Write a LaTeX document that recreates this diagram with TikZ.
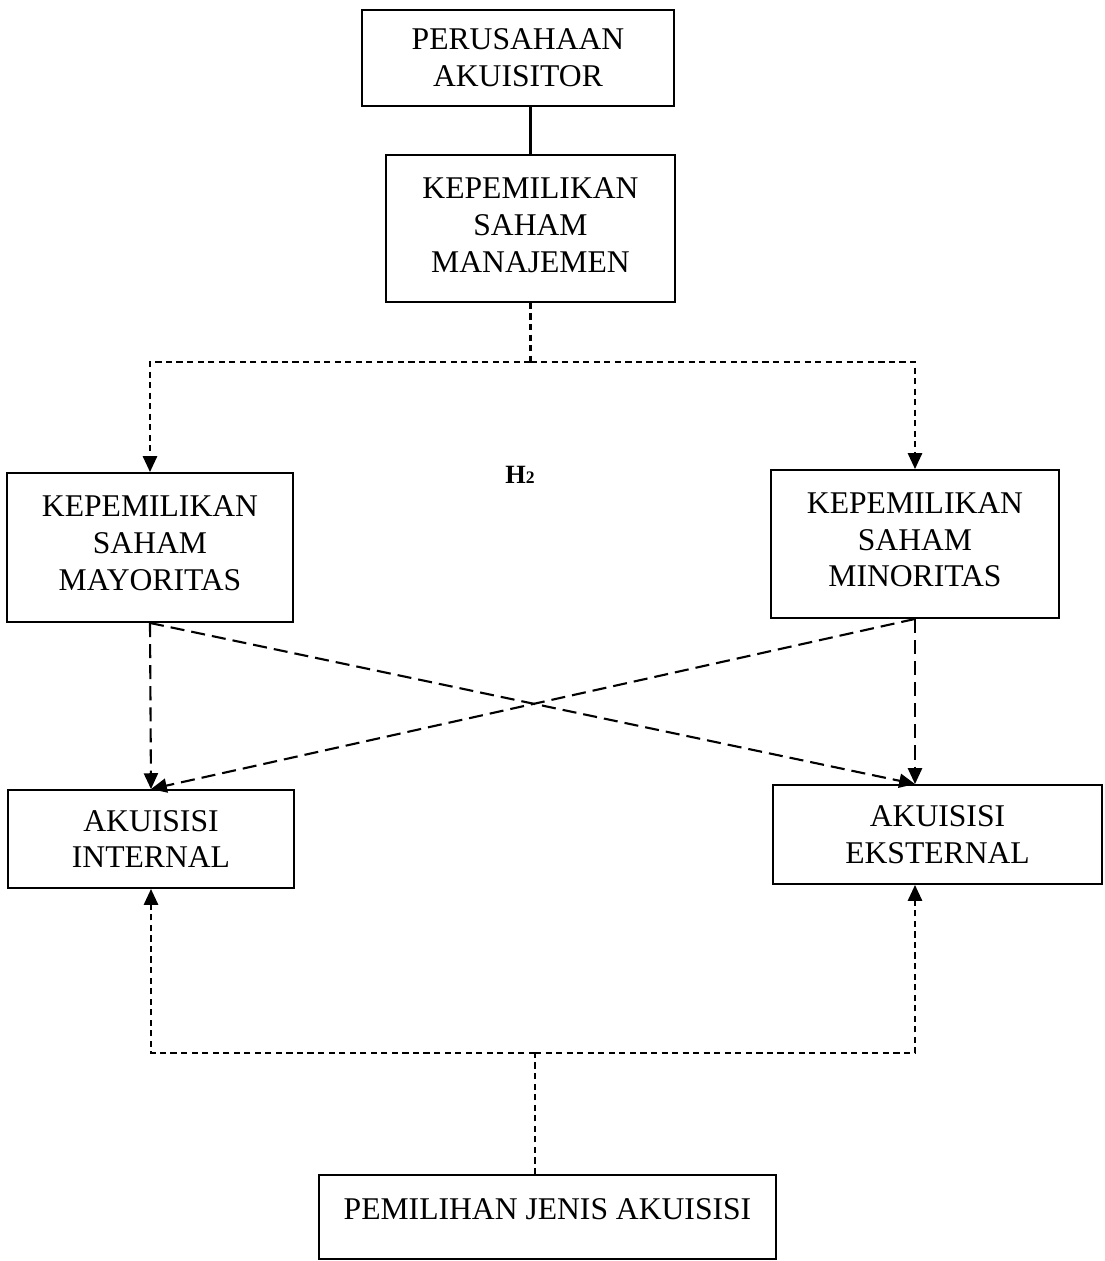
\documentclass[tikz,border=0pt]{standalone}
\usepackage{fontspec}
\setmainfont{Liberation Serif}
\usepackage{tikz}
\usetikzlibrary{arrows.meta}

\begin{document}
\begin{tikzpicture}[x=0.02cm,y=-0.02cm]

%
% Styles
%
\tikzstyle{box}      = [draw,line width=1.1pt,align=center,inner sep=0pt,font=\fontsize{18}{21}\selectfont]
\tikzstyle{dotline}  = [line width=1.3pt,dash pattern=on 3.5pt off 2.5pt]
\tikzstyle{dotarrow} = [dotline,->,>={Triangle[length=9pt,width=8pt]}]
\tikzstyle{dasharrow}= [line width=1.2pt,dash pattern=on 8pt off 4pt,->,>={Triangle[length=9pt,width=8pt]}]

\useasboundingbox (0,0) rectangle (1105,1261);

\node[box,minimum width=6.24cm,minimum height=1.92cm] (acq) at (518,58) {PERUSAHAAN\\AKUISITOR};
\node[box,minimum width=5.78cm,minimum height=2.94cm,text depth=4pt] (mgmt) at (530.5,228.5) {KEPEMILIKAN\\SAHAM\\MANAJEMEN};

\node[box,minimum width=5.72cm,minimum height=2.98cm,text depth=5pt] (major) at (150,547.5) {KEPEMILIKAN\\SAHAM\\MAYORITAS};
\node[box,minimum width=5.76cm,minimum height=2.96cm,text depth=5pt] (minor) at (915,544) {KEPEMILIKAN\\SAHAM\\MINORITAS};
\node[font=\fontsize{15}{17}\selectfont\bfseries] (h2) at (520,475) {H{\fontsize{10}{11}\selectfont 2}};

\node[box,minimum width=5.72cm,minimum height=1.96cm] (internal) at (151,839) {AKUISISI\\INTERNAL};
\node[box,minimum width=6.58cm,minimum height=1.98cm] (external) at (937.5,834.5) {AKUISISI\\EKSTERNAL};

\node[box,minimum width=9.14cm,minimum height=1.68cm,text depth=9.5pt] (choice) at (547.5,1217) {PEMILIHAN JENIS AKUISISI};

\coordinate (topj) at (530.5,362);
\coordinate (botj) at (535,1053);

\draw[line width=1.4pt] (mgmt.north) -- (mgmt.north |- acq.south);

\draw[dotline] (mgmt.south) -- (topj);
\draw[dotarrow] (topj) -| (major.north);
\draw[dotarrow] (topj) -| (minor.north);

\draw[dasharrow] (major.south) -- (internal.north);
\draw[dasharrow] (major.south) -- (minor.south |- external.north);
\draw[dasharrow] (minor.south) -- (internal.north);
\draw[dasharrow] (minor.south) -- (minor.south |- external.north);

\draw[dotline] (botj |- choice.north) -- (botj);
\draw[dotarrow] (botj) -| (internal.south);
\draw[dotarrow] (botj) -| (minor.south |- external.south);

\end{tikzpicture}
\end{document}
